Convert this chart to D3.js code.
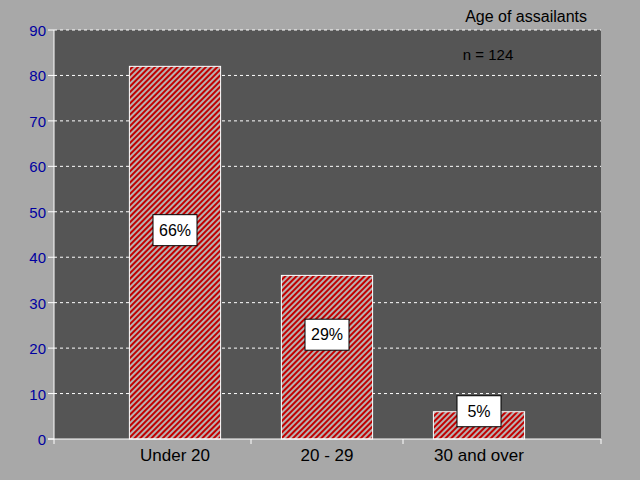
<!DOCTYPE html>
<html><head><meta charset="utf-8">
<script src="https://cdn.jsdelivr.net/npm/d3@7"></script>
<style>body{margin:0;background:#a8a8a8}</style>
</head><body>
<svg id="c" width="640" height="480"></svg>
<script>
const categories = ['Under 20', '20 - 29', '30 and over'];
const counts = [82, 36, 6];
const pcts = ['66%', '29%', '5%'];
const yTicks = [0, 10, 20, 30, 40, 50, 60, 70, 80, 90];

const svg = d3.select('#c');
svg.append('rect').attr('width', 640).attr('height', 480).attr('fill', '#a8a8a8');

const pLeft = 54, pRight = 601, pTop = 30, pBottom = 439;
const x = d3.scaleBand().domain(categories).range([99, 555]).paddingInner(0.4).paddingOuter(0.2);
const y = d3.scaleLinear().domain([0, 90]).range([pBottom, pTop]);

// hatch pattern
const pat = svg.append('defs').append('pattern').attr('id', 'h')
    .attr('patternUnits', 'userSpaceOnUse').attr('width', 4).attr('height', 4)
    .attr('patternTransform', 'rotate(45)');
pat.append('rect').attr('width', 4).attr('height', 4).attr('fill', '#b8b0b0');
pat.append('rect').attr('width', 2).attr('height', 4).attr('fill', '#c00000');

svg.append('rect').attr('x', pLeft).attr('y', pTop).attr('width', pRight - pLeft)
    .attr('height', pBottom - pTop).attr('fill', '#555555');

// grid
svg.selectAll('.g').data(yTicks.slice(1)).enter().append('line')
    .attr('x1', pLeft).attr('x2', pRight).attr('y1', d => y(d)).attr('y2', d => y(d))
    .attr('stroke', 'white').attr('stroke-dasharray', '3,3');

// bars
svg.selectAll('.b').data(categories).enter().append('rect')
    .attr('x', d => x(d)).attr('width', x.bandwidth())
    .attr('y', (d, i) => y(counts[i])).attr('height', (d, i) => pBottom - y(counts[i]))
    .attr('fill', 'url(#h)').attr('stroke', 'white').attr('stroke-width', 1);

// axes lines
svg.append('line').attr('x1', pLeft).attr('x2', pLeft).attr('y1', pTop).attr('y2', pBottom + 5).attr('stroke', 'white');
svg.append('line').attr('x1', pLeft - 6).attr('x2', pRight).attr('y1', pBottom).attr('y2', pBottom).attr('stroke', 'white');
svg.selectAll('.yt').data(yTicks).enter().append('line')
    .attr('x1', pLeft - 6).attr('x2', pLeft).attr('y1', d => y(d)).attr('y2', d => y(d)).attr('stroke', 'white');
svg.selectAll('.yl').data(yTicks).enter().append('text')
    .attr('x', pLeft - 8).attr('y', d => y(d) + 6).attr('text-anchor', 'end')
    .attr('font-family', 'Liberation Sans, Arial, sans-serif').attr('font-size', 15)
    .attr('fill', '#0000a0').text(d => d);

// x ticks at category boundaries
const step = x.step();
const xt = categories.slice(0, 2).map(c => x(c) + x.bandwidth() + (step - x.bandwidth()) / 2).concat([pRight]);
svg.selectAll('.xt').data(xt).enter().append('line')
    .attr('x1', d => d).attr('x2', d => d).attr('y1', pBottom).attr('y2', pBottom + 5).attr('stroke', 'white');
svg.selectAll('.xl').data(categories).enter().append('text')
    .attr('x', d => x(d) + x.bandwidth() / 2).attr('y', 461).attr('text-anchor', 'middle')
    .attr('font-family', 'Liberation Sans, Arial, sans-serif').attr('font-size', 17)
    .attr('fill', 'black').text(d => d);

// pct labels
const lab = svg.selectAll('.p').data(categories).enter().append('g')
    .attr('transform', (d, i) => {
      const cy = i == 2 ? y(counts[i]) - 1 : (y(counts[i]) + pBottom) / 2 - 23;
      return 'translate(' + (x(d) + x.bandwidth() / 2) + ',' + cy + ')';
    });
lab.append('rect').attr('x', -22).attr('y', -15).attr('width', 44).attr('height', 31)
    .attr('fill', 'white').attr('stroke', 'black');
lab.append('text').attr('y', 6).attr('text-anchor', 'middle')
    .attr('font-family', 'Liberation Sans, Arial, sans-serif').attr('font-size', 16)
    .text((d, i) => pcts[i]);

svg.append('text').attr('x', 587).attr('y', 22).attr('text-anchor', 'end')
    .attr('font-family', 'Liberation Sans, Arial, sans-serif').attr('font-size', 16).text('Age of assailants');
svg.append('text').attr('x', 488).attr('y', 60).attr('text-anchor', 'middle')
    .attr('font-family', 'Liberation Sans, Arial, sans-serif').attr('font-size', 15).text('n = 124');
</script>
</body></html>
